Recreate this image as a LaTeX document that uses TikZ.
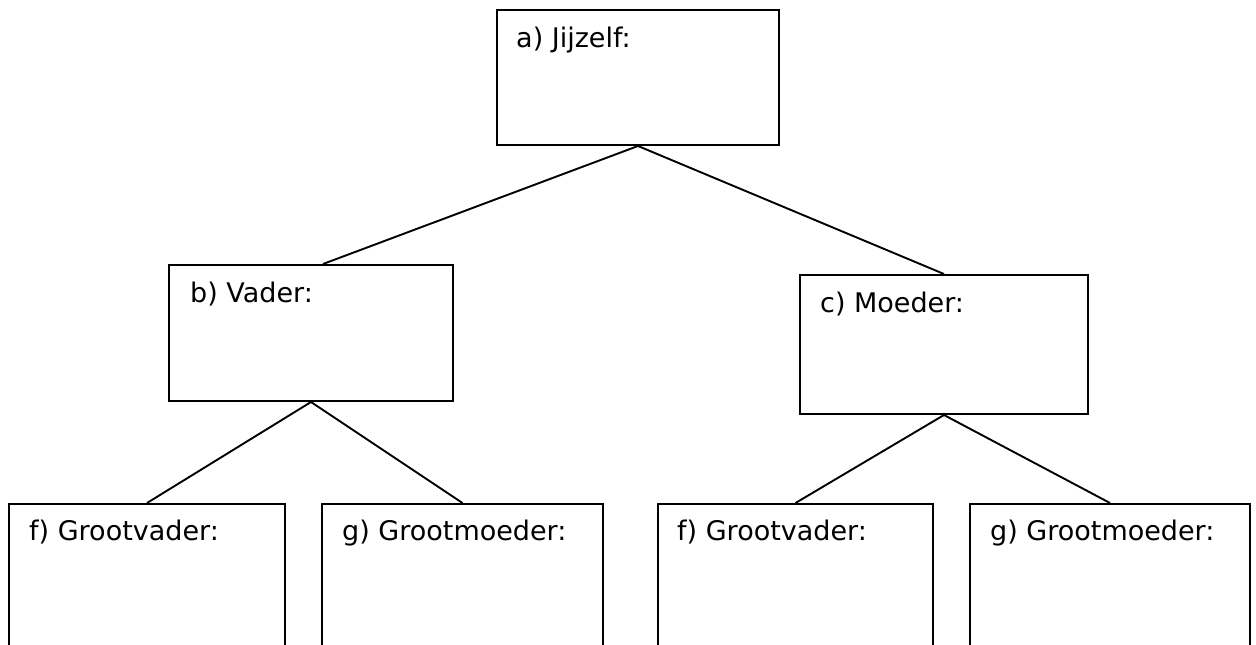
\documentclass[tikz,border=0pt]{standalone}
\usepackage{fontspec}
\setmainfont{DejaVu Sans}
\tikzset{
  box/.style={draw=black, line width=2pt, fill=white, rectangle, anchor=north west, inner sep=0pt},
  lbl/.style={anchor=base west, inner sep=0pt, font=\fontsize{27}{32}\selectfont},
  conn/.style={draw=black, line width=1.9pt}
}
\begin{document}
\begin{tikzpicture}[x=1pt,y=-1pt]
\useasboundingbox (0,0) rectangle (1256,645);
\clip (0,0) rectangle (1256,645);
\fill[white] (0,0) rectangle (1256,645);
\node[box, minimum width=282pt, minimum height=135pt] (a) at (496,9) {};
\node[box, minimum width=284pt, minimum height=136pt] (b) at (168,264) {};
\node[box, minimum width=288pt, minimum height=139pt] (c) at (799,274) {};
\node[box, minimum width=276pt, minimum height=220pt] (f1) at (8,503) {};
\node[box, minimum width=281pt, minimum height=220pt] (g1) at (321,503) {};
\node[box, minimum width=275pt, minimum height=220pt] (f2) at (657,503) {};
\node[box, minimum width=280pt, minimum height=220pt] (g2) at (969,503) {};
\draw[conn] (a.south) -- ([xshift=12pt]b.north);
\draw[conn] (a.south) -- (c.north);
\draw[conn] (b.south) -- (f1.north);
\draw[conn] (b.south) -- (g1.north);
\draw[conn] (c.south) -- (f2.north);
\draw[conn] (c.south) -- (g2.north);
\node[lbl] (ta) at ([shift={(20,38)}]a.north west) {a) Jijzelf:};
\node[lbl] (tb) at ([shift={(22,38)}]b.north west) {b) Vader:};
\node[lbl] (tc) at ([shift={(21,38)}]c.north west) {c) Moeder:};
\node[lbl] (tf1) at ([shift={(21,37)}]f1.north west) {f) Grootvader:};
\node[lbl] (tg1) at ([shift={(21,37)}]g1.north west) {g) Grootmoeder:};
\node[lbl] (tf2) at ([shift={(20,37)}]f2.north west) {f) Grootvader:};
\node[lbl] (tg2) at ([shift={(21,37)}]g2.north west) {g) Grootmoeder:};
\end{tikzpicture}
\end{document}
